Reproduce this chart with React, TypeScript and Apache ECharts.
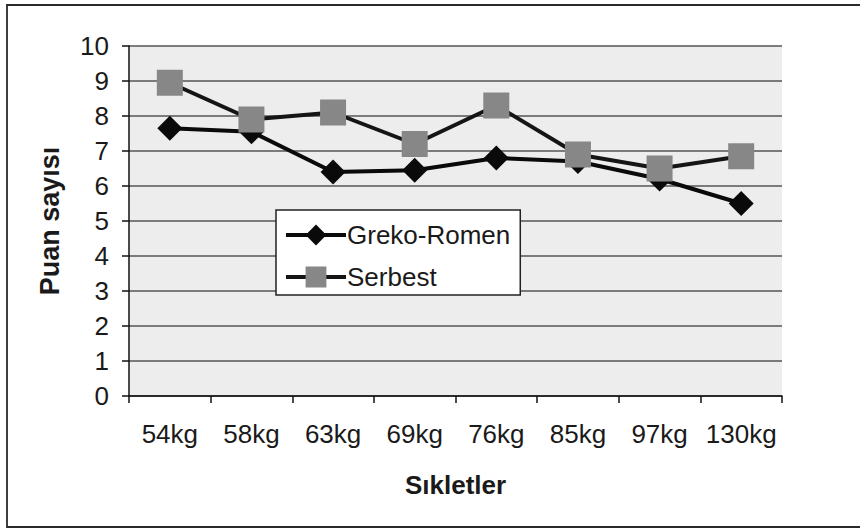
import React, { useEffect, useRef } from "react";
import * as echarts from "echarts";

const categories = ["54kg", "58kg", "63kg", "69kg", "76kg", "85kg", "97kg", "130kg"];
const grekoRomen = [7.65, 7.55, 6.4, 6.45, 6.8, 6.7, 6.2, 5.5];
const serbest = [8.95, 7.9, 8.1, 7.2, 8.3, 6.9, 6.5, 6.85];
const yTicks = [0, 1, 2, 3, 4, 5, 6, 7, 8, 9, 10];

const FONT = "'Liberation Sans', Arial, sans-serif";

export default function App() {
  const ref = useRef<HTMLDivElement>(null);
  useEffect(() => {
    document.body.style.margin = "0";
    const chart = echarts.init(ref.current!, null, { renderer: "svg" });
    chart.setOption({
      animation: false,
      backgroundColor: "#ffffff",
      textStyle: { fontFamily: FONT },
      grid: {
        left: 129,
        top: 46,
        width: 653,
        height: 350,
        show: true,
        backgroundColor: "#ededed",
        borderWidth: 0,
      },
      legend: {
        orient: "vertical",
        left: 276,
        top: 210,
        itemWidth: 60,
        itemHeight: 26,
        itemGap: 16,
        padding: [12, 10, 5, 8],
        backgroundColor: "#ffffff",
        borderColor: "#222",
        borderWidth: 1.5,
        lineStyle: { width: 4 },
        textStyle: { fontSize: 26, color: "#1a1a1a", fontFamily: FONT, padding: [0, 0, 0, -4] },
        data: ["Greko-Romen", "Serbest"],
      },
      xAxis: {
        type: "category",
        data: categories,
        boundaryGap: true,
        name: "Sıkletler",
        nameLocation: "middle",
        nameGap: 76,
        nameTextStyle: { fontSize: 26, fontWeight: "bold", color: "#1a1a1a", fontFamily: FONT },
        axisLine: { show: true, lineStyle: { color: "#111", width: 1.5 } },
        axisTick: { show: true, interval: 0, length: 7, inside: false, lineStyle: { color: "#111", width: 1.5 } },
        axisLabel: { interval: 0, fontSize: 26, color: "#1a1a1a", margin: 25, fontFamily: FONT },
        splitLine: { show: false },
      },
      yAxis: {
        type: "value",
        min: yTicks[0],
        max: yTicks[yTicks.length - 1],
        interval: 1,
        name: "Puan sayısı",
        nameLocation: "middle",
        nameGap: 66,
        nameRotate: 90,
        nameTextStyle: { fontSize: 27, fontWeight: "bold", color: "#1a1a1a", fontFamily: FONT },
        axisLine: { show: true, lineStyle: { color: "#111", width: 1.5 } },
        axisTick: { show: true, length: 7, lineStyle: { color: "#111", width: 1.5 } },
        axisLabel: { fontSize: 26, color: "#1a1a1a", margin: 20, fontFamily: FONT },
        splitLine: { show: true, lineStyle: { color: "#555", width: 1.5 } },
      },
      series: [
        {
          name: "Greko-Romen",
          type: "line",
          data: grekoRomen,
          symbol: "diamond",
          symbolSize: 25,
          itemStyle: { color: "#0a0a0a" },
          lineStyle: { color: "#0a0a0a", width: 4 },
        },
        {
          name: "Serbest",
          type: "line",
          data: serbest,
          symbol: "rect",
          symbolSize: 26,
          itemStyle: { color: "#878787" },
          lineStyle: { color: "#151515", width: 4 },
        },
      ],
      graphic: [
        {
          type: "rect",
          silent: true,
          shape: { x: 7, y: 5, width: 900, height: 522 },
          style: { fill: "none", stroke: "#2a2a2a", lineWidth: 1.8 },
        },
      ],
    });
    return () => chart.dispose();
  }, []);
  return <div ref={ref} style={{ width: 860, height: 529 }} />;
}
